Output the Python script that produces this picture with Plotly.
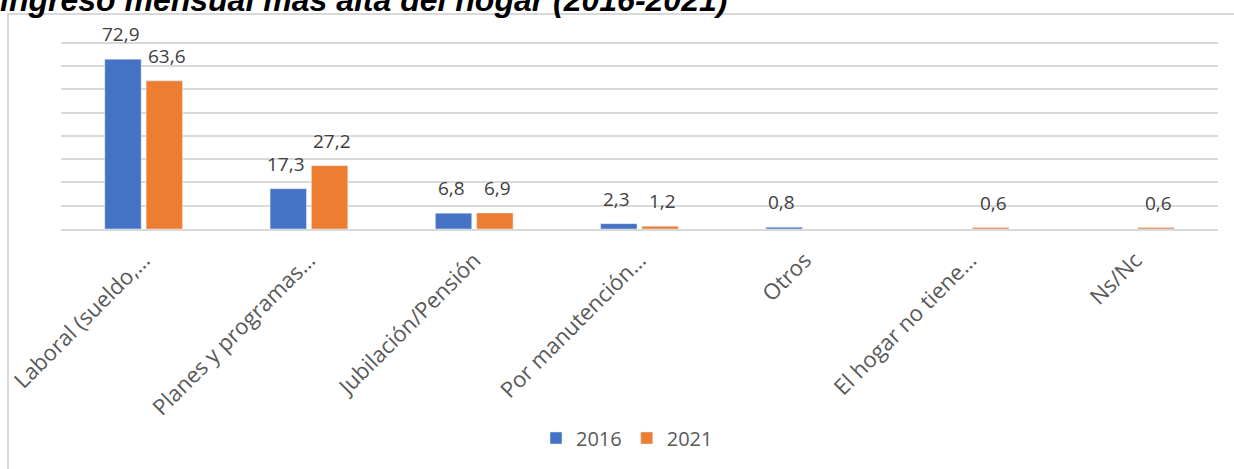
import plotly.graph_objects as go

FONT_FAMILY = "Open Sans, sans-serif"

CATEGORIAS = [
    "Laboral (sueldo,…",
    "Planes y programas…",
    "Jubilación/Pensión",
    "Por manutención…",
    "Otros",
    "El hogar no tiene…",
    "Ns/Nc",
]
VALORES_2016 = [72.9, 17.3, 6.8, 2.3, 0.8, None, None]
VALORES_2021 = [63.6, 27.2, 6.9, 1.2, None, 0.6, 0.6]

TITULO = "ingreso mensual más alta del hogar (2016-2021)"

COLOR_2016 = "#4472c4"
COLOR_2021 = "#ed7d31"

# área de trazado en píxeles
ML, MR, MT, MB = 61, 16, 38, 240
PW, PH = 1234 - ML - MR, 469 - MT - MB

fig = go.Figure()
fig.add_trace(go.Bar(x=CATEGORIAS, y=VALORES_2016, name="2016",
                     marker={"color": COLOR_2016}, hoverinfo="skip"))
fig.add_trace(go.Bar(x=CATEGORIAS, y=VALORES_2021, name="2021",
                     marker={"color": COLOR_2021}, hoverinfo="skip"))

# etiquetas de datos sobre cada barra
for serie, desplaz in ((VALORES_2016, -23), (VALORES_2021, 23)):
    for cat, val in zip(CATEGORIAS, serie):
        if val is None:
            continue
        fig.add_annotation(
            x=cat, y=val, text=f"{val:.1f}".replace(".", ","), showarrow=False,
            xshift=desplaz, yshift=25, yanchor="middle",
            font={"size": 19, "color": "#404040", "family": FONT_FAMILY},
        )

fig.add_annotation(
    x=(-2 - ML) / PW, y=1 + (MT - 20) / PH, xref="paper", yref="paper",
    xanchor="left", yanchor="bottom", showarrow=False,
    text=f"<b><i>{TITULO}</i></b>",
    font={"size": 32, "color": "#000000", "family": "Liberation Sans, Arial, sans-serif"},
)

# marco del área del gráfico
fig.add_shape(type="rect", xref="paper", yref="paper",
              x0=(8 - ML) / PW, x1=1.2, y0=-3, y1=1 + (MT - 14) / PH,
              line={"color": "#d9d9d9", "width": 2}, fillcolor="rgba(0,0,0,0)")

fig.update_layout(
    width=1234, height=469,
    margin={"t": MT, "b": MB, "l": ML, "r": MR, "autoexpand": False},
    barmode="group", bargap=0.5, bargroupgap=0.12,
    plot_bgcolor="white", paper_bgcolor="white",
    font={"family": FONT_FAMILY, "color": "#595959"},
    separators=",.",
    showlegend=True,
    legend={"orientation": "h", "x": (627 - ML) / PW, "xanchor": "center",
            "yref": "container", "y": 1 - 438 / 469, "yanchor": "middle",
            "itemwidth": 30,
            "font": {"size": 20, "color": "#595959"}},
)
fig.update_xaxes(
    tickangle=-45, tickfont={"size": 22, "color": "#595959"},
    showline=True, linecolor="#d9d9d9", linewidth=1.5,
    ticklabelstandoff=8, ticklabelshift=0, showgrid=False, automargin=False,
)
fig.update_yaxes(
    range=[0, 82], dtick=10, showticklabels=False, automargin=False,
    gridcolor="#d9d9d9", gridwidth=1.5, zeroline=False,
)

fig.write_html("out.html", config={"displayModeBar": False},
               post_script="document.body.style.margin = '0';")
